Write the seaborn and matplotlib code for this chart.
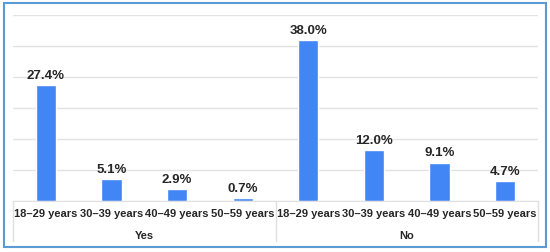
import pandas as pd
import numpy as np
import matplotlib
matplotlib.use("Agg")
import matplotlib.pyplot as plt
import seaborn as sns
from matplotlib.patches import Rectangle

# data
groups = ["Yes", "Yes", "Yes", "Yes", "No", "No", "No", "No"]
ages = ["18–29 years", "30–39 years", "40–49 years", "50–59 years"] * 2
values = [27.4, 5.1, 2.9, 0.7, 38.0, 12.0, 9.1, 4.7]
group_names = ["Yes", "No"]

df = pd.DataFrame({"group": groups, "age": ages, "value": values})
df["key"] = df["group"] + " | " + df["age"]

sns.set_style("white")
plt.rcParams["font.family"] = ["Liberation Sans", "DejaVu Sans"]

fig = plt.figure(figsize=(5.5, 2.53), dpi=100)
W, H = 550, 253
ax = fig.add_axes([13 / W, 1 - 202 / H, (538 - 13) / W, (202 - 16) / H])

sns.barplot(data=df, x="key", y="value", order=df["key"], color="#4285F4",
            width=0.31, saturation=1, ax=ax)

ax.set_xlim(-0.5, len(df) - 0.5)
ax.set_ylim(0, 44)
ax.set_yticks(np.linspace(0, 44, 7))
ax.set_yticklabels([])
ax.grid(axis="y", color="#E3E3E3", linewidth=1)
ax.set_axisbelow(True)
for s in ["top", "right", "left"]:
    ax.spines[s].set_visible(False)
ax.spines["bottom"].set_color("#E0E0E0")
ax.tick_params(axis="both", length=0)
ax.tick_params(axis="x", pad=5)
ax.set_xticks(range(len(df)))
ax.set_xticklabels(df["age"], fontsize=8, fontweight="bold")
ax.set_xlabel("")
ax.set_ylabel("")

# value labels
for i, v in enumerate(df["value"]):
    ax.annotate(f"{v:.1f}%", (i, v), xytext=(0, 3), textcoords="offset points",
                ha="center", va="bottom", fontsize=9.5, fontweight="bold")

# category table lines and group labels
tr = ax.get_xaxis_transform()
for x in [-0.5, 3.5, 7.5]:
    ax.plot([x, x], [0, -0.215], transform=tr, color="#E0E0E0", lw=1, clip_on=False)
for j, g in enumerate(group_names):
    ax.text(j * 4 + 1.5, -0.183, g, transform=tr, ha="center", va="center",
            fontsize=8, fontweight="bold")

# outer border
border = Rectangle((3.5 / W, 5.5 / H), 542 / W, 244 / H,
                   transform=fig.transFigure, fill=False,
                   edgecolor="#5B9BD5", linewidth=1.5)
fig.patches.append(border)

fig.savefig("out.png", dpi=100)
